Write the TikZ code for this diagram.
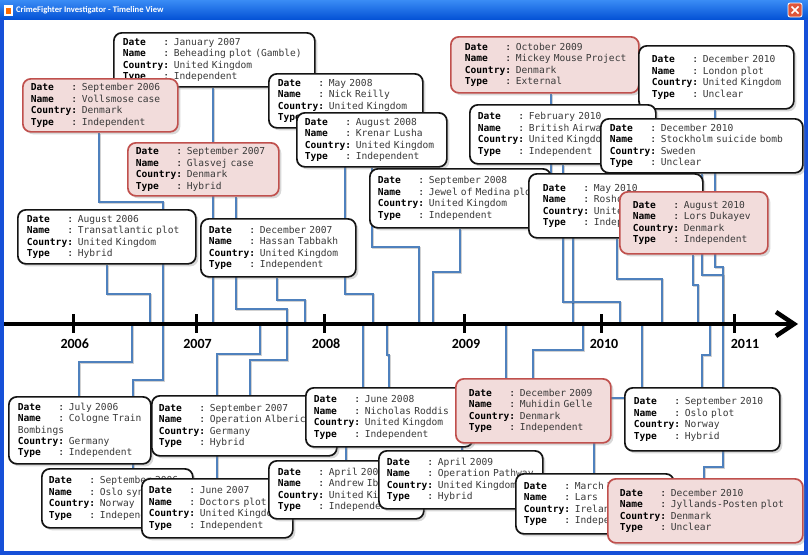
\documentclass[tikz,border=0pt]{standalone}
\usepackage{fontspec}
\usetikzlibrary{shadows}
\newfontfamily\boxfont{DejaVu Sans Mono}
\newfontfamily\yearfont{Carlito}
\definecolor{linec}{HTML}{4F81BD}
\definecolor{redb}{HTML}{C0504D}
\definecolor{pinkf}{HTML}{F2DCDB}
\definecolor{valc}{HTML}{3A3A3A}
\definecolor{xpframe}{HTML}{1650D8}
\definecolor{xptop}{HTML}{3A8CF5}
\definecolor{xpmid}{HTML}{0A61E8}
\definecolor{xpbot}{HTML}{0553D6}
\definecolor{closered}{HTML}{E0553A}
\newcommand\evlab[1]{\makebox[4.214em][l]{\bfseries #1}}
\newcommand\evt[4]{\mbox{\evlab{Date}: {\color{valc}#1}}\\\mbox{\evlab{Name}: {\color{valc}#2}}\\\mbox{\textbf{Country:} {\color{valc}#3}}\\\mbox{\evlab{Type}: {\color{valc}#4}}}
\pgfdeclarelayer{back}
\pgfdeclarelayer{bg}
\pgfsetlayers{back,bg,main}
\begin{document}
\begin{tikzpicture}[x=1pt,y=-1pt,
  evbase/.style={rectangle, rounded corners=8pt, draw=black!92, line width=1.7pt, fill=white,
    align=left, anchor=north west, inner ysep=0pt,
    font=\boxfont\fontsize{9.6}{11.4}\selectfont,
    drop shadow={shadow xshift=2.5pt, shadow yshift=-2.5pt, opacity=0.3}},
  ev/.style n args={3}{evbase, text width=#1pt, minimum height=#2pt, inner xsep=#3pt},
  dk/.style={draw=redb, fill=pinkf},
  conn/.style={draw=linec, line width=2.5pt,
    preaction={draw=black, draw opacity=0.18, line width=2.5pt, transform canvas={xshift=1.2pt,yshift=-1.2pt}}},
  year/.style={font=\yearfont\bfseries\fontsize{14}{16}\selectfont, inner sep=0pt, anchor=center},
  tick/.style={line width=3pt}]
\useasboundingbox (0,0) rectangle (808,555);
% window
\begin{pgfonlayer}{back}
\fill[white] (0,0) rectangle (808,555);
\end{pgfonlayer}
\shade[top color=xptop, middle color=xpmid, bottom color=xpbot] (0,0) rectangle (808,19);
\fill[xpframe] (0,19) rectangle (4,555);
\fill[xpframe] (804,19) rectangle (808,555);
\fill[xpframe] (0,551) rectangle (808,555);
\fill[white] (4,5) rectangle (13,16);
\fill[orange!85!red] (6,8) rectangle (11,14);
\node[anchor=west, text=white, inner sep=0pt, font=\yearfont\bfseries\fontsize{8.6}{10}\selectfont] (title) at (16,10.5) {CrimeFighter Investigator - Timeline View};
\draw[white, line width=0.8pt, fill=closered, rounded corners=2pt] (788,3) rectangle (802,17);
\draw[white, line width=1.6pt] (791.5,6.5) -- (798.5,13.5) (798.5,6.5) -- (791.5,13.5);

% timeline coordinates
\coordinate (tstart) at (4,324);
\coordinate (tend) at (795,324);
\foreach \x in {132,150,163,213,260,287,305,363,373,387,419,433,506,573,583,620,642,662,698,710,723}
  \coordinate (t\x) at (\x,324);

% top boxes
\node[ev={183}{54}{9}] (beheading) at (113,32) {\evt{January 2007}{Beheading plot (Gamble)}{United Kingdom}{Independent}};
\node[ev={139}{53}{8}, dk] (vollsmose) at (22,78) {\evt{September 2006}{Vollsmose case}{Denmark}{Independent}};
\node[ev={136}{54}{9}] (nick) at (268,73) {\evt{May 2008}{Nick Reilly}{United Kingdom}{Independent}};
\node[ev={134}{54}{8}] (krenar) at (296,112) {\evt{August 2008}{Krenar Lusha}{United Kingdom}{Independent}};
\node[ev={135}{53}{8}, dk] (glasvej) at (127,142) {\evt{September 2007}{Glasvej case}{Denmark}{Hybrid}};
\node[ev={160}{54}{9}] (transatl) at (17,209) {\evt{August 2006}{Transatlantic plot}{United Kingdom}{Hybrid}};
\node[ev={139}{58}{8}] (hassan) at (200,218) {\evt{December 2007}{Hassan Tabbakh}{United Kingdom}{Independent}};
\node[ev={165}{59}{8}] (jewel) at (369,168) {\evt{September 2008}{Jewel of Medina plot}{United Kingdom}{Independent}};
\node[ev={160}{56}{14}, dk] (mickey) at (450,36) {\evt{October 2009}{Mickey Mouse Project}{Denmark}{External}};
\node[ev={129}{63}{13}] (london) at (638,45) {\evt{December 2010}{London plot}{United Kingdom}{Unclear}};
\node[ev={170}{59}{8}] (feb) at (469,104) {\evt{February 2010}{British Airways plot}{United Kingdom}{Independent}};
\node[ev={184}{54}{9}] (stockholm) at (600,118) {\evt{December 2010}{Stockholm suicide bomb}{Sweden}{Unclear}};
\node[ev={146}{64}{14}] (may) at (528,173) {\evt{May 2010}{Roshonara Choudhry}{United Kingdom}{Independent}};
\node[ev={122}{62}{13}, dk] (lors) at (619,191) {\evt{August 2010}{Lors Dukayev}{Denmark}{Independent}};

% bottom boxes
\node[ev={124}{67}{9}] (cologne) at (8,396) {\mbox{\evlab{Date}: {\color{valc}July 2006}}\\\mbox{\evlab{Name}: {\color{valc}Cologne Train}}\\\mbox{\color{valc}Bombings}\\\mbox{\textbf{Country:} {\color{valc}Germany}}\\\mbox{\evlab{Type}: {\color{valc}Independent}}};
\node[ev={171}{60}{7}] (alberico) at (151,395) {\evt{September 2007}{Operation Alberich}{Germany}{Hybrid}};
\node[ev={137}{59}{7}] (oslosy) at (41,468) {\evt{September 2006}{Oslo synagogue}{Norway}{Independent}};
\node[ev={137}{59}{7}] (doctors) at (141,478) {\evt{June 2007}{Doctors plot}{United Kingdom}{Independent}};
\node[ev={137}{58}{9}] (andrew) at (268,460) {\evt{April 2008}{Andrew Ibrahim}{United Kingdom}{Independent}};
\node[ev={151}{59}{8}] (roddis) at (305,387) {\evt{June 2008}{Nicholas Roddis}{United Kingdom}{Independent}};
\node[ev={148}{58}{8}] (pathway) at (378,450) {\evt{April 2009}{Operation Pathway}{United Kingdom}{Hybrid}};
\node[ev={129}{64}{13}, dk] (muhidin) at (455,378) {\evt{December 2009}{Muhidin Gelle}{Denmark}{Independent}};
\node[ev={137}{63}{9}] (osloplot) at (624,387) {\evt{September 2010}{Oslo plot}{Norway}{Hybrid}};
\node[ev={142}{60}{8}] (lars) at (515,473) {\evt{March 2010}{Lars}{Ireland}{Independent}};
\node[ev={171}{64}{12}, dk] (jyllands) at (607,478) {\evt{December 2010}{Jyllands-Posten plot}{Denmark}{Unclear}};

% connectors
\begin{pgfonlayer}{bg}
\draw[conn] (beheading.south -| 213,0) -- (t213);
\draw[conn] (vollsmose.south -| 99,0) |- (163,202) -- (t163);
\draw[conn] (transatl.south -| 107,0) |- (150,294) -- (t150);
\draw[conn] (glasvej.south -| 236,0) |- (287,309) -- (t287);
\draw[conn] (hassan.south -| 277,0) |- (305,300) -- (t305);
\draw[conn] (nick.south -| 345,0) |- (373,294) -- (t373);
\draw[conn] (krenar.south -| 372,0) |- (419,247) -- (t419);
\draw[conn] (jewel.south -| 460,0) |- (433,272) -- (t433);
\draw[conn] (mickey.south -| 551,0) |- (573,200) -- (t573);
\draw[conn] (feb.south -| 563,0) |- (620,302) -- (t620);
\draw[conn] (may.south -| 617,0) |- (662,279) -- (t662);
\draw[conn] (lors.south -| 693,0) |- (698,285) -- (t698);
\draw[conn] (stockholm.south -| 702,0) |- (723,275) -- (t723);
\draw[conn] (london.south -| 715,0) |- (723,267) -- (t723);
\draw[conn] (t132) |- (79,362) -- (cologne.north -| 79,0);
\draw[conn] (t163) |- (133,380) -- (oslosy.north -| 133,0);
\draw[conn] (t287) |- (250,360) -- (alberico.north -| 250,0);
\draw[conn] (t260) |- (217,354) -- (doctors.north -| 217,0);
\draw[conn] (t363) |- (346,420) -- (andrew.north -| 346,0);
\draw[conn] (t387) |- (389,355) -- (roddis.north -| 389,0);
\draw[conn] (t506) |- (462,420) -- (pathway.north -| 462,0);
\draw[conn] (t583) |- (533,350) -- (muhidin.north -| 533,0);
\draw[conn] (t642) |- (594,398) -- (lars.north -| 594,0);
\draw[conn] (t710) |- (702,355) -- (osloplot.north -| 702,0);
\draw[conn] (t723) |- (704,467) -- (jyllands.north -| 704,0);
\end{pgfonlayer}

% timeline
\draw[line width=4pt] (tstart) -- (tend);
\draw[line width=4.5pt, line join=miter] (776,312) -- (794,324) -- (776,336);
\foreach \x/\lx/\yr in {73/74.7/2006,196/197.5/2007,324/326/2008,464/466/2009,601/604/2010,734/745/2011}{
  \draw[tick] (\x,314) -- (\x,333);
  \node[year] (y\yr) at (\lx,343.7) {\yr};
}
\end{tikzpicture}
\end{document}
